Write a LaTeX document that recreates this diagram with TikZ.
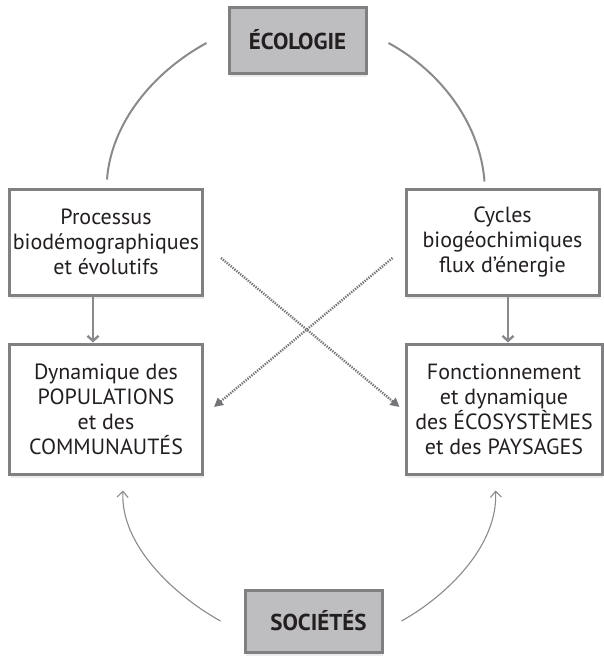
\documentclass[tikz,border=0pt]{standalone}
\usepackage{fontspec}
\setmainfont{PT Sans}
\usetikzlibrary{positioning,arrows.meta,shadows}

\definecolor{boxgray}{RGB}{128,128,131}
\definecolor{hubfill}{RGB}{190,190,193}
\definecolor{linegray}{RGB}{138,138,141}
\definecolor{inkgray}{RGB}{35,31,32}

\begin{document}
\begin{tikzpicture}[x=1pt, y=-1pt,
  theme/.style={draw=boxgray, line width=3pt, fill=hubfill,
                minimum width=137pt, minimum height=66pt,
                font=\fontsize{23}{26}\selectfont\bfseries, text=inkgray,
                drop shadow={shadow xshift=1pt, shadow yshift=-3.5pt, fill=black!15}},
  process/.style={draw=boxgray, line width=3pt, fill=white,
                  minimum width=193pt, align=center, text=inkgray,
                  font=\fontsize{22}{25}\selectfont,
                  drop shadow={shadow xshift=1pt, shadow yshift=-3.5pt, fill=black!15}},
  link/.style={draw=linegray, line width=2.4pt, -{Straight Barb[length=5pt,width=11pt]}},
  arc/.style={draw=linegray, line width=2pt},
  feed/.style={draw=linegray, line width=1.1pt, -{Straight Barb[length=6pt,width=11pt]}},
  cross/.style={draw=linegray!85!black, line width=2.4pt, dash pattern=on 1.3pt off 1.2pt,
                -{Triangle[length=9pt,width=9pt]}},
  ]
  \useasboundingbox (0,0) rectangle (604,656);

  \node[theme] (eco) at (297.5,40) {ÉCOLOGIE};
  \node[theme, minimum height=62pt] (soc) at (313.5,621) {\hspace*{10pt}SOCIÉTÉS};

  \node[process, minimum height=106pt] (proc) at (106,242)
    {Processus\\biodémographiques\\et évolutifs};
  \node[process, minimum height=106pt] (cyc) at (502.5,242)
    {Cycles\\biogéochimiques\\flux d’énergie};
  \node[process, minimum height=130pt, below=46pt of proc] (pop)
    {Dynamique des\\POPULATIONS\\et des\\COMMUNAUTÉS};
  \node[process, minimum height=130pt, minimum width=196pt, below=46pt of cyc,
        xshift=1.5pt] (fonc)
    {Fonctionnement\\et dynamique\\des ÉCOSYSTÈMES\\et des PAYSAGES};

  % ecologie branches
  \draw[arc] ([xshift=-21pt,yshift=-3pt]eco.west)
    .. controls +(-55,30) and +(4,-55) .. ([xshift=1pt,yshift=8pt]proc.north);
  \draw[arc] ([xshift=21pt,yshift=-3pt]eco.east)
    .. controls +(55,30) and +(-4,-55) .. ([xshift=-18pt,yshift=6pt]cyc.north);

  % processes to dynamics
  \draw[link] ([xshift=-13pt]proc.south) -- ([xshift=-13pt]proc.south |- pop.north);
  \draw[link] ([xshift=5.5pt]cyc.south) -- ([xshift=5.5pt]cyc.south |- fonc.north);

  % crossed influences
  \draw[cross] ([xshift=17pt,yshift=-16pt]proc.east) -- ([xshift=-5pt,yshift=2pt]fonc.west);
  \draw[cross] ([xshift=-12pt,yshift=-16pt]cyc.west) -- ([xshift=10pt,yshift=2pt]pop.east);

  % societes feedback
  \draw[feed] ([xshift=-23pt]soc.west)
    .. controls +(-45,-25) and +(-3,55) .. ([xshift=17pt,yshift=-15pt]pop.south);
  \draw[feed] ([xshift=18pt]soc.east)
    .. controls +(45,-25) and +(3,55) .. ([xshift=-8.5pt,yshift=-15pt]fonc.south);
\end{tikzpicture}
\end{document}
